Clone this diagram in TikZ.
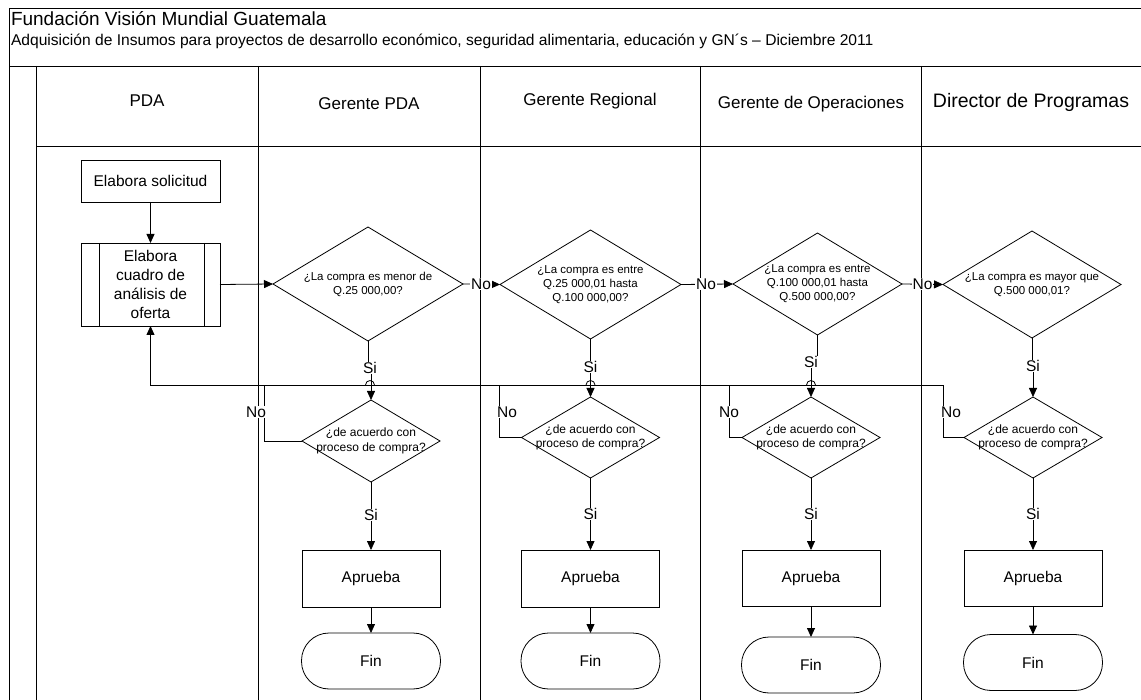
\documentclass[tikz,border=0pt]{standalone}
\usepackage{fontspec}
\setmainfont{Liberation Sans}
\usetikzlibrary{arrows.meta}

\begin{document}
\begin{tikzpicture}[x=1pt,y=-1pt,
  every node/.style={inner sep=0pt,outer sep=0pt},
  frame/.style={line width=0.9pt},
  conn/.style={line width=0.8pt},
  arr/.style={conn,-{Triangle[length=9pt,width=8pt]}},
  box/.style={draw,line width=0.8pt,align=center,font=\fontsize{15.5}{18.7}\selectfont},
  term/.style={box,rounded corners=27.5pt,minimum width=139pt,minimum height=56pt},
  % a decision: the node is its bounding box, the rhombus is drawn from its anchors
  dec/.style={rectangle,align=center},
  qa/.style={dec,font=\fontsize{11.5}{14}\selectfont},
  qb/.style={dec,font=\fontsize{12}{14.5}\selectfont,minimum width=138pt,minimum height=81pt},
  hdr/.style={font=\fontsize{17}{20}\selectfont},
  lbl/.style={fill=white,inner sep=0.8pt,font=\fontsize{15.5}{18}\selectfont}
]
\useasboundingbox (0,0) rectangle (1141,700);

% frame, title band and swimlanes
\draw[frame] (9,700) -- (9,8) -- (1141,8);
\draw[frame] (9,66) -- (1141,66);
\draw[frame] (36,66) -- (36,700);
\draw[frame] (36,146) -- (1141,146);
\foreach \lx in {258,480,700,921} \draw[frame] (\lx,66) -- (\lx,700);

\node[anchor=west,font=\fontsize{19}{22}\selectfont] (title) at (11,19) {Fundación Visión Mundial Guatemala};
\node[anchor=west,font=\fontsize{15.6}{18}\selectfont] (sub) at (11,41)
  {Adquisición de Insumos para proyectos de desarrollo económico, seguridad alimentaria, educación y GN´s – Diciembre 2011};

\node[hdr] (h1) at (147,101) {PDA};
\node[hdr] (h2) at (369,104) {Gerente PDA};
\node[hdr] (h3) at (590,101) {Gerente Regional};
\node[hdr] (h4) at (811,104) {Gerente de Operaciones};
\node[font=\fontsize{19.5}{22}\selectfont] (h5) at (1031,102) {Director de Programas};

% PDA lane
\node[box,minimum width=139pt,minimum height=42pt] (sol) at (150.5,181) {Elabora solicitud};
\node[box,minimum width=139pt,minimum height=83pt] (cua) at (150.5,284.5) {Elabora\\cuadro de\\análisis de\\oferta};
\draw[conn] ([xshift=18pt]cua.north west) -- ([xshift=18pt]cua.south west);
\draw[conn] ([xshift=-16pt]cua.north east) -- ([xshift=-16pt]cua.south east);

% amount checks
\node[qa,minimum width=190pt,minimum height=114pt] (d1) at (368,284) {¿La compra es menor de\\Q.25 000,00?};
\node[qa,minimum width=181pt,minimum height=109pt] (d2) at (590.5,284.5) {¿La compra es entre\\Q.25 000,01 hasta\\Q.100 000,00?};
\node[qa,minimum width=169pt,minimum height=102pt] (d3) at (817.5,284) {¿La compra es entre\\Q.100 000,01 hasta\\Q.500 000,00?};
\node[qa,minimum width=178pt,minimum height=107pt] (d4) at (1032,284.5) {¿La compra es mayor que\\Q.500 000,01?};

% procedure checks
\node[qb,minimum height=82pt] (d5) at (371,441) {¿de acuerdo con\\proceso de compra?};
\node[qb] (d6) at (590.5,437.5) {¿de acuerdo con\\proceso de compra?};
\node[qb] (d7) at (811,437.5) {¿de acuerdo con\\proceso de compra?};
\node[qb] (d8) at (1033,437.5) {¿de acuerdo con\\proceso de compra?};

\foreach \d in {d1,d2,d3,d4,d5,d6,d7,d8}
  \draw[conn,line join=miter] (\d.north) -- (\d.east) -- (\d.south) -- (\d.west) -- cycle;

% approvals and ends
\node[box,minimum width=138pt,minimum height=57pt] (a1) at (371,578.5) {Aprueba};
\node[box,minimum width=138pt,minimum height=57pt] (a2) at (590.5,578.5) {Aprueba};
\node[box,minimum width=138pt,minimum height=56pt] (a3) at (811,578) {Aprueba};
\node[box,minimum width=138pt,minimum height=56pt] (a4) at (1033,578) {Aprueba};
\node[term] (f1) at (371,661) {Fin};
\node[term] (f2) at (590.5,661) {Fin};
\node[term] (f3) at (811,665) {Fin};
\node[term] (f4) at (1033,662.5) {Fin};

% label and junction points
\coordinate (s1) at (370,368);
\coordinate (s2) at (590.5,367);
\coordinate (s3) at (811,362);
\coordinate (s4) at (1033,366);
\coordinate (j5) at (264,385);
\coordinate (j6) at (499,385);
\coordinate (j7) at (729,385);
\coordinate (j8) at (943,385);
\coordinate (jl) at (150.5,385);

% connectors
\draw[arr] (sol) -- (cua);
\draw[arr] (cua.east) -- (d1.west);
\draw[arr] (d1.east) -- (d2.west);
\draw[arr] (d2.east) -- (d3.west);
\draw[arr] (d3.east) -- (d4.west);

% rejected requests go back to the offer analysis
\draw[arr] (d8.west) -| (j8) -- (jl) -- (cua.south);
\draw[conn] (d5.west) -| (j5);
\draw[conn] (d6.west) -| (j6);
\draw[conn] (d7.west) -| (j7);
\foreach \hx in {370,590.5,811}
  \draw[conn] (\hx-4.5,385) arc[start angle=180,end angle=0,radius=4.5pt];

\draw[arr] (d1.south) |- (s1) -| (d5.north);
\draw[arr] (d2.south) |- (s2) -| (d6.north);
\draw[arr] (d3.south) |- (s3) -| (d7.north);
\draw[arr] (d4.south) |- (s4) -| (d8.north);

\draw[arr] (d5.south) -- (a1.north);
\draw[arr] (d6.south) -- (a2.north);
\draw[arr] (d7.south) -- (a3.north);
\draw[arr] (d8.south) -- (a4.north);
\draw[arr] (a1) -- (f1);
\draw[arr] (a2) -- (f2);
\draw[arr] (a3) -- (f3);
\draw[arr] (a4) -- (f4);

% connector labels
\node[lbl] (no1) at (481,284) {No};
\node[lbl] (no2) at (706,284) {No};
\node[lbl] (no3) at (922.5,284) {No};
\node[lbl] (si1) at (s1) {Si};
\node[lbl] (si2) at (s2) {Si};
\node[lbl] (si3) at (s3) {Si};
\node[lbl] (si4) at (s4) {Si};
\node[lbl] (no5) at (256,412) {No};
\node[lbl] (no6) at (507,412) {No};
\node[lbl] (no7) at (729,412) {No};
\node[lbl] (no8) at (951,412) {No};
\node[lbl] (si5) at (371,515) {Si};
\node[lbl] (si6) at (590.5,514) {Si};
\node[lbl] (si7) at (811,514) {Si};
\node[lbl] (si8) at (1033,514) {Si};
\end{tikzpicture}
\end{document}
